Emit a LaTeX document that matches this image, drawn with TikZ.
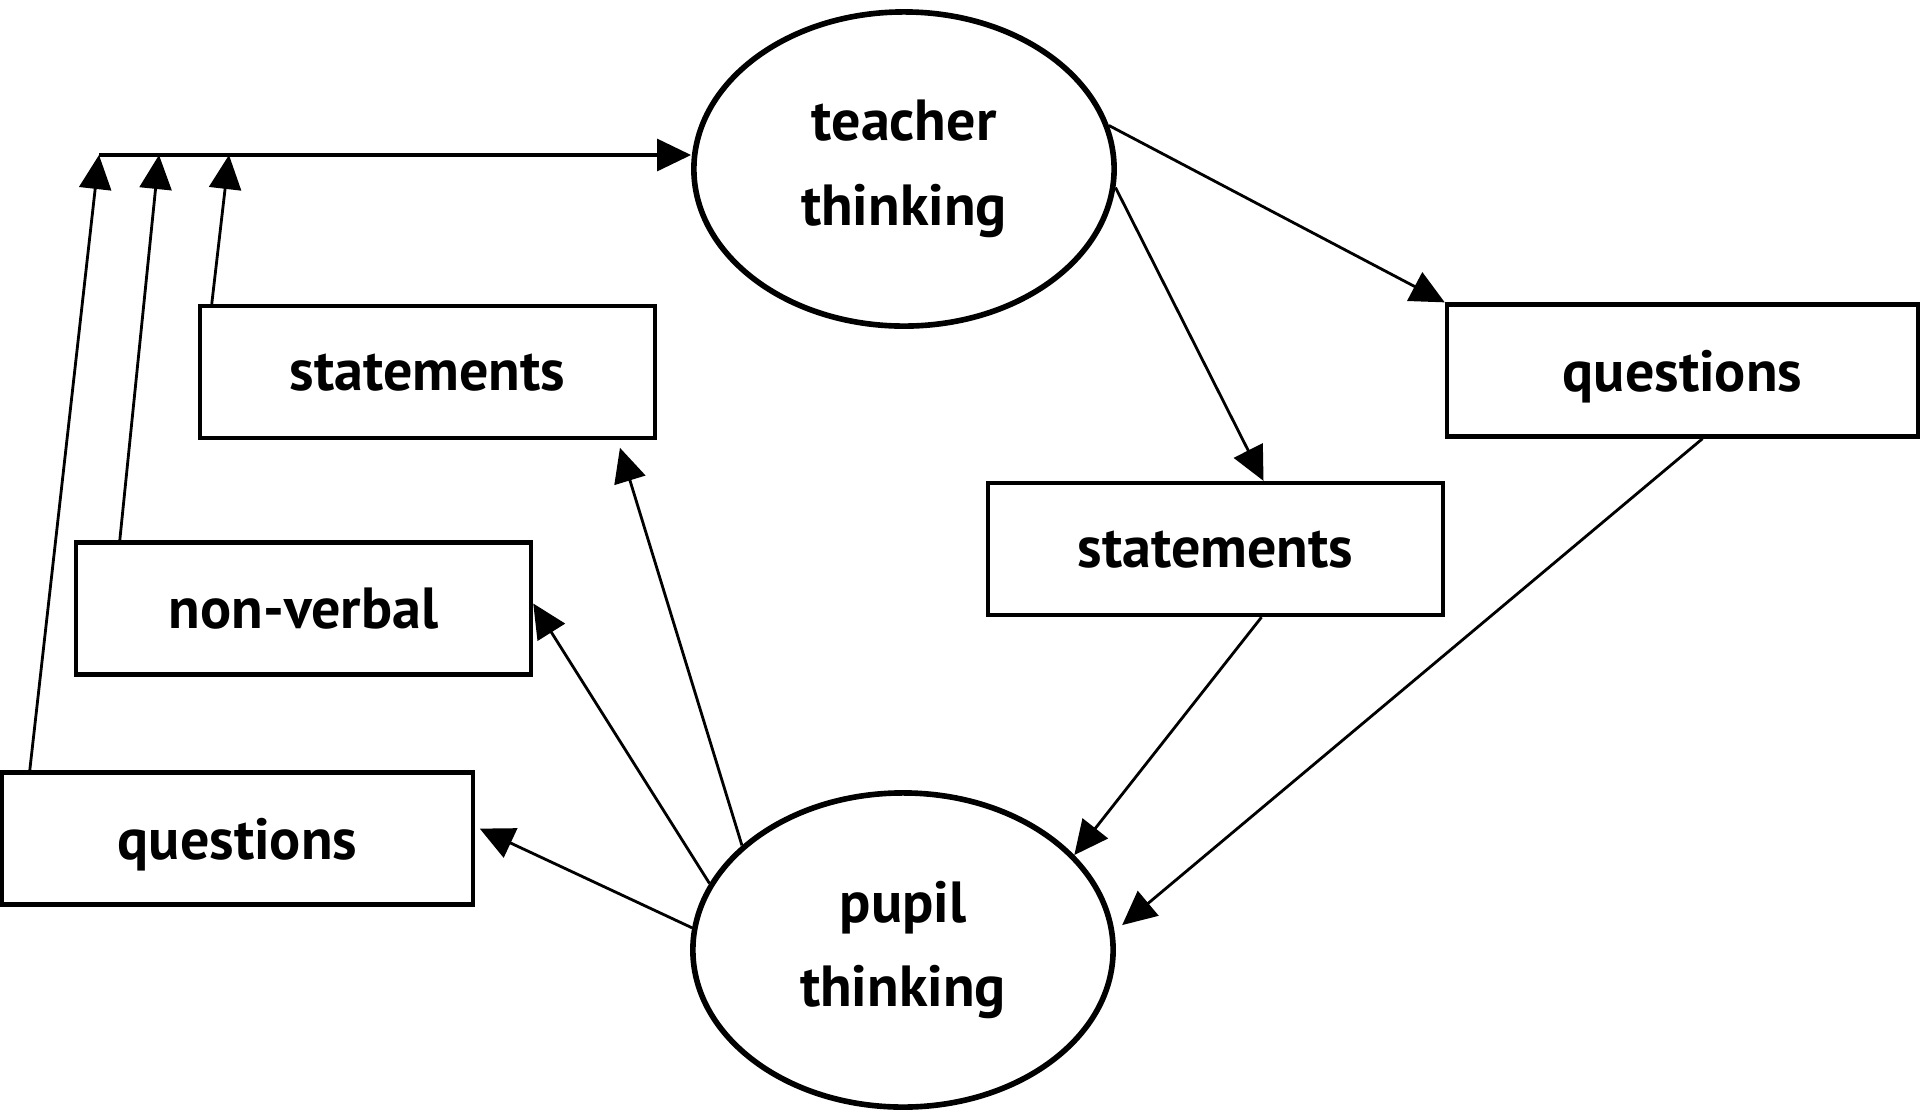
\documentclass[tikz,border=0pt]{standalone}
\usepackage{fontspec}
\setmainfont{PT Sans}
\usetikzlibrary{positioning}
\usetikzlibrary{shapes.geometric}
\usetikzlibrary{arrows.meta}

\begin{document}
\begin{tikzpicture}[x=0.01cm, y=-0.01cm,
		every node/.style={font=\bfseries\fontsize{16.5}{24}\selectfont},
		thought/.style={ellipse, draw=black, line width=1.6pt, minimum width=4.2cm, minimum height=3.14cm, inner sep=0pt, align=center},
		box/.style={rectangle, draw=black, line width=1.2pt, minimum width=4.55cm, minimum height=1.32cm, text depth=0pt},
		link/.style={black, line width=0.8pt, -{Triangle[length=0.34cm, width=0.32cm]}}]
				\useasboundingbox (0,0) rectangle (1920,1114);
				\node[thought] (teacher) at (904,169) {teacher\\thinking};
				\node[thought] (pupil)   at (903,950) {pupil\\thinking};
				\node[box] (stmtL)     at ( 427.5,372)   {statements};
				\node[box] (nonverbal) at ( 303.5,608.5) {non-verbal};
				\node[box, minimum width=4.71cm] (quesL) at ( 237.5,838.5) {questions};
				\node[box] (stmtR)     at (1215.5,549)   {statements};
				\node[box, minimum width=4.71cm] (quesR) at (1682.5,370.5) {questions};
				\node[shape=coordinate] (in1) at ( 99,155) {};
				\node[shape=coordinate] (in2) at (159,155) {};
				\node[shape=coordinate] (in3) at (229,155) {};
				\draw[link, line width=0.9pt] (in1) -- (in1 -| teacher.west);
				\draw[link] ([xshift=0.30cm]quesL.north west)     -- (in1);
				\draw[link] ([xshift=0.46cm]nonverbal.north west) -- (in2);
				\draw[link] ([xshift=0.14cm]stmtL.north west)     -- (in3);
				\draw[link] (teacher.12) -- (quesR.north west);
				\draw[link] (teacher.-5) -- ([xshift=0.48cm]stmtR.north);
				\draw[link] ([xshift=0.46cm]stmtR.south) -- (pupil.29);
				\draw[link, shorten >=0.1cm] ([xshift=0.2cm]quesR.south) -- (pupil.5);
				\draw[link, shorten >=0.08cm] (pupil.147) -- ([xshift=1.9cm]stmtL.south);
				\draw[link] (pupil.161) -- ([yshift=0.05cm]nonverbal.east);
				\draw[link, shorten >=0.05cm] (pupil.174) -- ([yshift=0.12cm]quesL.east);
			\end{tikzpicture}
\end{document}
